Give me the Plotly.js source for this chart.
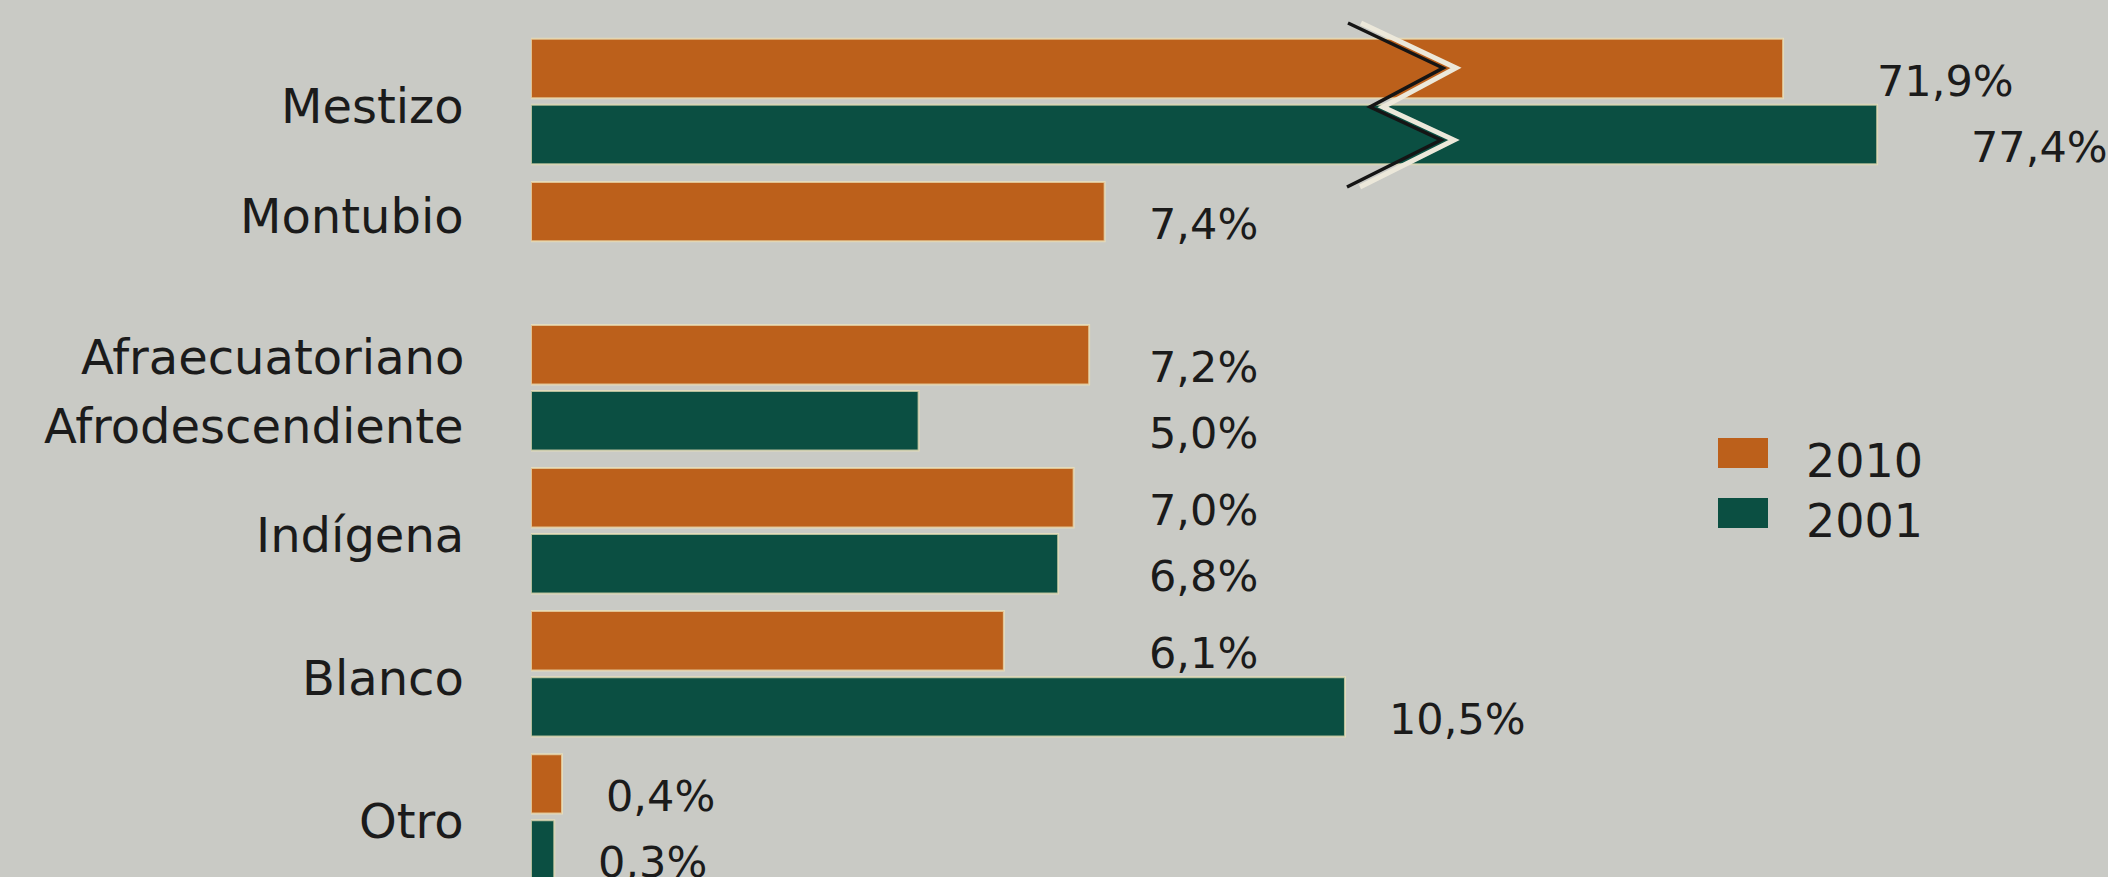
<!DOCTYPE html>
<html>
<head>
<meta charset="utf-8">
<script src="https://cdn.plot.ly/plotly-3.0.1.min.js"></script>
<style>html,body{margin:0;padding:0;background:#c9cac5;}#chart{width:2108px;height:877px;}</style>
</head>
<body>
<div id="chart"></div>
<script>
// ---- data ----
const categories = ['Mestizo', 'Montubio', 'Afraecuatoriano', 'Indígena', 'Blanco', 'Otro'];
const labels2001 = ['Mestizo', 'Montubio', 'Afrodescendiente', 'Indígena', 'Blanco', 'Otro'];
const seriesNames = ['2010', '2001'];
const values2010 = [71.9, 7.4, 7.2, 7.0, 6.1, 0.4];
const values2001 = [77.4, null, 5.0, 6.8, 10.5, 0.3];

// ---- style / layout ----
const W = 2108, H = 877;
const M = {l: 531, r: 0, t: 30, b: 0};
const plotW = W - M.l - M.r, plotH = H - M.t - M.b;
const breakPx = 1400;                       // pixel position of the axis break
const dom1 = (breakPx - M.l) / plotW;
const range1 = [0, 11.21];                  // left part of broken axis
const range2 = [49.5, 90.9];                // right part of broken axis
const yRange = [5.42, -0.5];
const bargap = 0.077, bargroupgap = 0.1;
const pxPerCat = plotH / Math.abs(yRange[0] - yRange[1]);
const barOffPx = (1 - bargap) / 4 * pxPerCat;

const ORANGE = '#bc601b', GREEN = '#0b4f42', BG = '#c9cac5', INK = '#1b1b1b';
const FONT = 'DejaVu Sans, sans-serif';
const colors = [ORANGE, GREEN];
const series = [values2010, values2001];

const fmt = v => v.toFixed(1).replace('.', ',') + '%';
const pxX = x => (x - M.l) / plotW;
const pxY = y => 1 - (y - M.t) / plotH;

const traces = [];
['x', 'x2'].forEach(xa => {
  series.forEach((vals, s) => {
    traces.push({
      type: 'bar', orientation: 'h',
      y: categories, x: vals,
      name: seriesNames[s],
      xaxis: xa, yaxis: 'y',
      marker: {color: colors[s], line: {color: 'rgba(236,226,186,0.75)', width: 2}},
      showlegend: false, hoverinfo: 'skip'
    });
  });
});

const annotations = [];
// category labels
categories.forEach((c, i) => {
  const base = {xref: 'paper', x: 0, xanchor: 'right', xshift: -65, yref: 'y', y: c,
    showarrow: false, font: {family: FONT, size: 48, color: INK}};
  if (labels2001[i] !== c) {
    annotations.push(Object.assign({}, base, {text: c, yshift: barOffPx - 2}));
    annotations.push(Object.assign({}, base, {text: labels2001[i], yshift: -barOffPx - 5}));
  } else if (values2001[i] === null) {
    annotations.push(Object.assign({}, base, {text: c, yshift: barOffPx - 4}));
  } else {
    annotations.push(Object.assign({}, base, {text: c, yshift: -4}));
  }
});
// value labels
const smallVals = series.flat().filter(v => v !== null && v >= 1 && v < 8);
const column = Math.max(...smallVals);
series.forEach((vals, s) => {
  vals.forEach((v, i) => {
    if (v === null) return;
    const broken = v > range1[1];
    let ax = v;
    if (!broken && v >= 1 && v < 8) ax = column;
    annotations.push({
      xref: broken ? 'x2' : 'x', x: ax, xanchor: 'left', xshift: broken ? 92 : 42,
      yref: 'y', y: categories[i], yshift: (s === 0 ? barOffPx : -barOffPx) - 12,
      text: fmt(v), showarrow: false, font: {family: FONT, size: 43, color: INK}
    });
  });
});
// legend
const legY = [453, 513];
seriesNames.forEach((n, s) => {
  annotations.push({xref: 'paper', yref: 'paper', x: pxX(1804), y: pxY(legY[s] + 8),
    xanchor: 'left', yanchor: 'middle', text: n, showarrow: false,
    font: {family: FONT, size: 46, color: INK}});
});

const shapes = [];
seriesNames.forEach((n, s) => {
  shapes.push({type: 'rect', xref: 'paper', yref: 'paper',
    x0: pxX(1718), x1: pxX(1768), y0: pxY(legY[s] - 15), y1: pxY(legY[s] + 15),
    fillcolor: colors[s], line: {width: 0}});
});
// axis-break zigzag
const zz = [[1348, 23], [1443, 68], [1370, 107], [1441, 140], [1347, 187]];
const zpath = off => zz.map((p, k) => (k ? 'L' : 'M') + pxX(p[0] + off) + ',' + pxY(p[1])).join(' ');
shapes.push({type: 'path', xref: 'paper', yref: 'paper', path: zpath(13), line: {color: '#ece8da', width: 5}});
shapes.push({type: 'path', xref: 'paper', yref: 'paper', path: zpath(0), line: {color: '#151515', width: 3.5}});

const hidden = {showgrid: false, zeroline: false, showline: false, showticklabels: false, ticks: ''};
const layout = {
  width: W, height: H, margin: M,
  paper_bgcolor: BG, plot_bgcolor: BG,
  barmode: 'group', bargap: bargap, bargroupgap: bargroupgap,
  showlegend: false,
  xaxis: Object.assign({domain: [0, dom1], range: range1, fixedrange: true}, hidden),
  xaxis2: Object.assign({domain: [dom1, 1], range: range2, fixedrange: true}, hidden),
  yaxis: Object.assign({type: 'category', range: yRange, fixedrange: true}, hidden),
  annotations: annotations, shapes: shapes
};
Plotly.newPlot('chart', traces, layout, {displayModeBar: false, staticPlot: true});
</script>
</body>
</html>
